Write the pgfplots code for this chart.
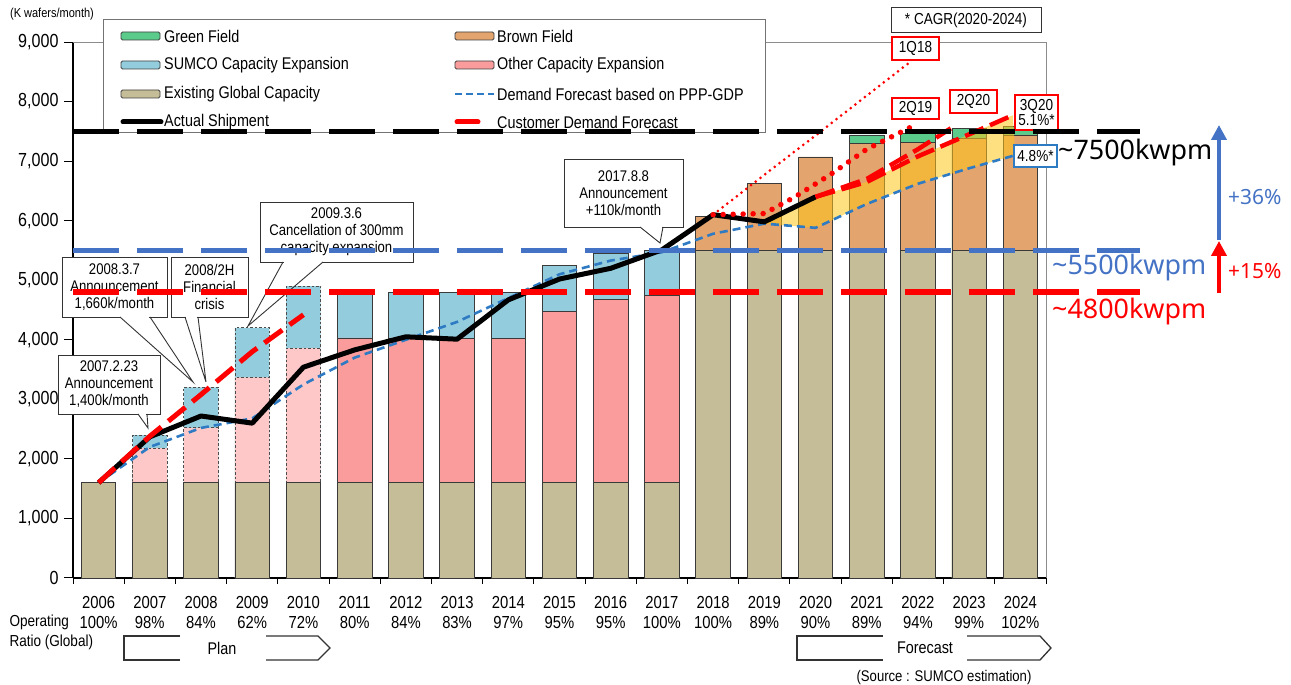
\documentclass[border=0pt]{standalone}
\usepackage{pgfplots}
\pgfplotsset{compat=1.18}
\usepackage{fontspec}
\setmainfont{Liberation Sans}[FakeStretch=0.85]
\newfontfamily\kfont{Noto Sans}
\usetikzlibrary{arrows.meta}

\definecolor{tanC}{HTML}{C4BD97}
\definecolor{pinkC}{HTML}{FA9C9C}
\definecolor{pinkPlan}{HTML}{FFC8C8}
\definecolor{blueC}{HTML}{93CDDD}
\definecolor{brownC}{HTML}{E3A46D}
\definecolor{greenC}{HTML}{5BCB8C}
\definecolor{bandC}{HTML}{FFC61A}
\definecolor{pppC}{HTML}{2E7BC4}
\definecolor{refBlue}{HTML}{4472C4}
\definecolor{edgeC}{HTML}{3A3A3A}

\newcommand\fs[2]{\fontsize{#1}{#2}\selectfont}

% callout box: x1,y1,x2,y2, leg1 x, leg2 x, tip x, tip y, text
\newcommand\callout[9]{%
  \filldraw[draw=black!80, fill=white, line width=0.9bp] (#1,#2) rectangle (#3,#4);
  \fill[white] (#5+0.8,#4-0.7) rectangle (#6-0.8,#4+0.7);
  \draw[black!80, line width=0.9bp] (#5,#4) -- (#7,#8) -- (#6,#4);
  \node[align=center, font=\fs{15.5}{17}] at ({(#1+#3)/2},{(#2+#4)/2}) {#9};}

\pgfplotsset{
  frame/.style={at={(73bp,107bp)}, anchor=south west, scale only axis,
    width=973bp, height=536bp, xmin=-0.5, xmax=18.5, ymin=0, ymax=9000, clip=false},
  bar/.style={ybar, bar width=34.5bp, bar shift=0pt, draw=edgeC, line width=0.8bp},
  planbar/.style={ybar, bar width=34.5bp, bar shift=0pt, draw=black!70, line width=0.9bp,
    dash pattern=on 2.5bp off 2bp},
}

\begin{document}
\begin{tikzpicture}
\useasboundingbox (0,0) rectangle (1291bp,685bp);

\begin{axis}[frame,
  axis x line*=bottom, axis y line*=left,
  axis line style={-, black, line width=1.3bp},
  /pgf/number format/assume math mode=true,
  ytick={0,1000,...,9000},
  yticklabel style={font=\fs{19}{19}, /pgf/number format/1000 sep={,}, xshift=-2bp},
  scaled y ticks=false,
  xtick={0,...,18},
  xticklabels={{2006\\100\%},{2007\\98\%},{2008\\84\%},{2009\\62\%},{2010\\72\%},
    {2011\\80\%},{2012\\84\%},{2013\\83\%},{2014\\97\%},{2015\\95\%},{2016\\95\%},
    {2017\\100\%},{2018\\100\%},{2019\\89\%},{2020\\90\%},{2021\\89\%},{2022\\94\%},
    {2023\\99\%},{2024\\102\%}},
  xticklabel style={font=\fs{17.5}{19.5}, align=center, yshift=-6bp},
  every major x tick/.append style={draw=none},
  minor xtick={-0.5,0.5,...,18.5},
  tick align=outside, major tick length=9bp, minor tick length=6bp,
  tick style={black, line width=1bp},
]
% capacity bars, cumulative tops, tallest segment first
\addplot[bar, fill=greenC] coordinates {(15,7440) (16,7470) (17,7550) (18,7580)};
\addplot[bar, fill=brownC] coordinates {(12,6070) (13,6630) (14,7070) (15,7300) (16,7320) (17,7380) (18,7440)};
\addplot[bar, fill=blueC] coordinates {(5,4800) (6,4800) (7,4800) (8,4800) (9,5250) (10,5450) (11,5500)};
\addplot[bar, fill=pinkC] coordinates {(5,4030) (6,4030) (7,4020) (8,4020) (9,4480) (10,4680) (11,4750)};
\addplot[planbar, fill=blueC] coordinates {(1,2400) (2,3200) (3,4200) (4,4900)};
\addplot[planbar, fill=pinkPlan] coordinates {(1,2180) (2,2520) (3,3370) (4,3860)};
\addplot[bar, fill=tanC] coordinates {(0,1600) (1,1600) (2,1600) (3,1600) (4,1600) (5,1600)
  (6,1600) (7,1600) (8,1600) (9,1600) (10,1600) (11,1600)
  (12,5500) (13,5500) (14,5500) (15,5500) (16,5500) (17,5500) (18,5500)};

% forecast range band
\addplot[fill=bandC, fill opacity=0.55, draw=none] coordinates {
  (13,5980) (14,6400) (15,6650) (16,7080) (17,7450) (17.85,7770)
  (17.9,7100) (17,6880) (16,6620) (15,6280) (14,5880) (13,5950)} -- cycle;

% demand forecast based on PPP-GDP
\addplot[pppC, line width=2.6bp, dash pattern=on 8bp off 5bp] coordinates {
  (0,1600) (1,2200) (2,2520) (3,2680) (4,3250) (5,3700) (6,4000) (7,4300) (8,4700)
  (9,5100) (10,5330) (11,5470) (12,5780) (13,5950) (14,5880) (15,6280) (16,6620)
  (17,6880) (17.9,7100)};
% actual shipment
\addplot[black, line width=5bp, line join=round] coordinates {
  (0,1600) (1,2370) (2,2720) (3,2600) (4,3540) (5,3830) (6,4050) (7,4010) (8,4670)
  (9,5020) (10,5200) (11,5510) (12,6100) (13,5980) (14,6400)};
% customer demand forecasts
\addplot[red, line width=3bp, line cap=round, dash pattern=on 0bp off 6bp] coordinates {
  (12,6100) (13,6770) (14,7430) (15,8100) (15.84,8660)};
\addplot[red, line width=5.5bp, line cap=round, dash pattern=on 0bp off 10bp] coordinates {
  (12,6100) (13,6120) (13.6,6400) (14.3,6780) (15,7200) (15.86,7570)};
\addplot[red, line width=4.5bp, dash pattern=on 20bp off 7bp] coordinates {
  (14,6400) (15,6700) (16,7200) (16.64,7550)};
\addplot[red, line width=4.5bp, dash pattern=on 20bp off 7bp] coordinates {
  (14,6400) (15,6650) (16,7080) (17,7450) (17.85,7770)};
\addplot[red, line width=5bp, dash pattern=on 22bp off 9bp] coordinates {
  (0,1600) (1,2380) (2,3080) (3,3800) (4,4420)};

\draw[black!45, line width=1bp] (rel axis cs:0,1) -- (rel axis cs:1,1) -- (rel axis cs:1,0);
\end{axis}

\begin{scope}[x=1bp, y=-1bp, yshift=685bp]
% unit label
\node[font=\fs{13}{13}] at (52,14) {(K wafers/month)};

% legend
\filldraw[draw=black!55, fill=white, line width=1bp] (103,20) rectangle (765,133);
\begin{scope}[font=\fs{17}{17}]
\foreach \c/\yy/\t in {greenC/36/Green Field, blueC/65/SUMCO Capacity Expansion,
    tanC/94/Existing Global Capacity} {
  \draw[black!75, line width=0.8bp, fill=\c, rounded corners=1.5bp] (121,\yy-4) rectangle (160,\yy+4);
  \node[anchor=west, inner sep=0] at (164,\yy) {\t};
}
\foreach \c/\yy/\t in {brownC/36/Brown Field, pinkC/65/Other Capacity Expansion} {
  \draw[black!75, line width=0.8bp, fill=\c, rounded corners=1.5bp] (455,\yy-4) rectangle (494,\yy+4);
  \node[anchor=west, inner sep=0] at (497,\yy) {\t};
}
\draw[pppC, line width=2.6bp, dash pattern=on 7bp off 4bp] (455,94) -- (494,94);
\node[anchor=west, inner sep=0] at (497,94) {Demand Forecast based on PPP-GDP};
\draw[black, line width=5bp, line cap=round] (123,122) -- (161,122);
\node[anchor=west, inner sep=0] at (164,122) {Actual Shipment};
\draw[red, line width=5bp, line cap=round] (457,122) -- (478,122);
\node[anchor=west, inner sep=0] at (497,122) {Customer Demand Forecast};
\end{scope}

% announcements
\callout{58}{355}{160}{414}{138}{147}{148}{428}{2007.2.23\\Announcement\\1,400k/month}
\callout{62}{257}{167}{317}{120}{150}{193}{382}{2008.3.7\\Announcement\\1,660k/month}
\callout{171}{257}{248}{317}{185}{198}{206}{382}{2008/2H\\Financial\\crisis}
\callout{260}{202}{413}{262}{283}{323}{248}{326}{2009.3.6\\Cancellation of 300mm\\capacity expansion}
\callout{564}{159}{683}{227}{640}{663}{660}{243}{2017.8.8\\Announcement\\+110k/month}

% forecast tags
\filldraw[draw=black!80, fill=white, line width=1bp] (891,8) rectangle (1041,33);
\node[font=\fs{16}{16}] at (966,20.5) {* CAGR(2020-2024)};
\begin{scope}[font=\fs{16}{15}]
\filldraw[draw=red, fill=white, line width=1.5bp] (892,37) rectangle (939,60);
\node at (915.5,48.5) {1Q18};
\filldraw[draw=red, fill=white, line width=1.5bp] (892,98) rectangle (939,119);
\node at (915.5,108.5) {2Q19};
\filldraw[draw=red, fill=white, line width=1.5bp] (950,90) rectangle (997,113);
\node at (973.5,101.5) {2Q20};
\filldraw[draw=red, fill=white, line width=1.5bp] (1015,95) rectangle (1058,130);
\node[align=center] at (1036.5,112.5) {3Q20\\5.1\%*};
\filldraw[draw=pppC, fill=white, line width=1.5bp] (1014,145) rectangle (1057,167);
\node at (1035.5,156) {4.8\%*};
\end{scope}

% bottom captions
\node[anchor=west, font=\fs{16}{16}] at (6,622) {Operating};
\node[anchor=west, font=\fs{16}{16}] at (6,642) {Ratio (Global)};
\begin{scope}[black!80, line width=1.3bp]
\draw (180,636) -- (124,636) -- (124,660) -- (180,660);
\draw (266,636) -- (318,636) -- (330,648) -- (318,660) -- (266,660);
\draw (883,636) -- (797,636) -- (797,660) -- (883,660);
\draw (967,636) -- (1040,636) -- (1051,648) -- (1040,660) -- (967,660);
\end{scope}
\node[font=\fs{17}{17}] at (222,648) {Plan};
\node[font=\fs{17}{17}] at (925,648) {Forecast};
\node[font=\fs{15.5}{15.5}] at (944,678) {(Source : SUMCO estimation)};
\end{scope}

% capacity reference levels
\begin{axis}[frame, hide axis]
\addplot[black, line width=5.5bp, dash pattern=on 46bp off 18bp] coordinates {(-0.5,7500) (20.33,7500)};
\addplot[refBlue, line width=5.5bp, dash pattern=on 46bp off 18bp] coordinates {(-0.5,5500) (20.33,5500)};
\addplot[red, line width=5.5bp, dash pattern=on 46bp off 18bp] coordinates {(-0.5,4800) (20.33,4800)};
\end{axis}

\begin{scope}[x=1bp, y=-1bp, yshift=685bp]
\node[anchor=west, inner sep=0, font=\kfont\fs{27}{27}] at (1058,153) {\textasciitilde7500kwpm};
\node[anchor=west, inner sep=0, font=\kfont\fs{27}{27}, text=refBlue] at (1052,268) {\textasciitilde5500kwpm};
\node[anchor=west, inner sep=0, font=\kfont\fs{27}{27}, text=red] at (1052,312) {\textasciitilde4800kwpm};
\node[anchor=west, inner sep=0, font=\kfont\fs{21}{21}, text=refBlue] at (1228,197) {+36\%};
\node[anchor=west, inner sep=0, font=\kfont\fs{21}{21}, text=red] at (1228,271) {+15\%};
\draw[refBlue, line width=4.5bp, -{Triangle[width=15bp,length=15bp]}] (1219,240) -- (1219,125);
\draw[red, line width=4.5bp, -{Triangle[width=15bp,length=15bp]}] (1219,293) -- (1219,241);
\end{scope}
\end{tikzpicture}
\end{document}
